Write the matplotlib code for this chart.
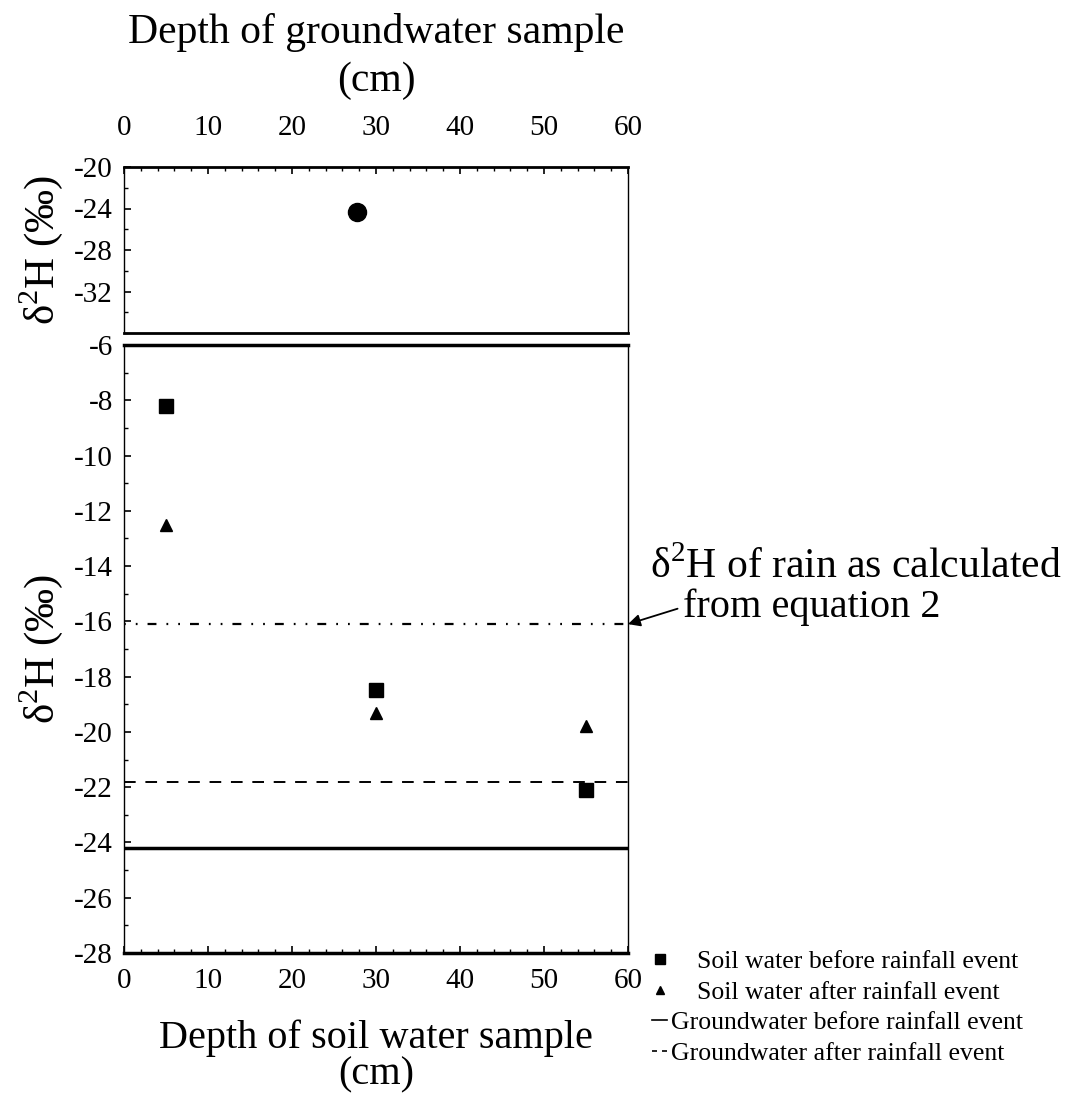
import numpy as np
import matplotlib
matplotlib.use("Agg")
import matplotlib.pyplot as plt
from matplotlib.lines import Line2D
from matplotlib.ticker import MultipleLocator

plt.rcParams['font.family'] = ['Liberation Serif', 'DejaVu Serif']
plt.rcParams['mathtext.fontset'] = 'custom'
plt.rcParams['mathtext.rm'] = 'Liberation Serif'
plt.rcParams['axes.unicode_minus'] = False

# ── data ──────────────────────────────────────────────────────────────────────
gw_depth = [27.7]
gw_delta = [-24.3]

soil_depth = [5, 30, 55]
soil_before = [-8.2, -18.5, -22.1]
soil_after = [-12.5, -19.3, -19.8]

gw_before_line = -24.2
gw_after_line = -21.8
rain_line = -16.1

x_ticks = [0, 10, 20, 30, 40, 50, 60]
top_yticks = [-20, -24, -28, -32]
bot_yticks = [-6, -8, -10, -12, -14, -16, -18, -20, -22, -24, -26, -28]

ylab = 'δ$^{2}$H (‰)'

W, H = 1084, 1097
fig = plt.figure(figsize=(W / 100, H / 100), dpi=100)

def fx(px):
    return px / W

def fy(py):
    return 1 - py / H

left, right = 124, 628
ax_top = fig.add_axes([fx(left), fy(333), fx(right - left), (333 - 167) / H])
ax_bot = fig.add_axes([fx(left), fy(953), fx(right - left), (953 - 345) / H])

# ── top panel: groundwater ───────────────────────────────────────────────────
ax_top.plot(gw_depth, gw_delta, 'o', color='black', ms=13)
ax_top.set_xlim(0, 60)
ax_top.set_ylim(-36, -20)
ax_top.set_xticks(x_ticks)
ax_top.set_yticks(top_yticks)
ax_top.xaxis.set_minor_locator(MultipleLocator(2))
ax_top.yaxis.set_minor_locator(MultipleLocator(2))
ax_top.xaxis.tick_top()
ax_top.tick_params(axis='x', which='both', direction='in', top=True, bottom=False,
                   labelsize=21, pad=19)
ax_top.tick_params(axis='y', which='both', direction='in', labelsize=21, pad=8)
ax_top.tick_params(which='major', length=5, width=1.2)
ax_top.tick_params(which='minor', length=3, width=1)
ax_top.xaxis.set_label_position('top')
ax_top.set_xlabel('Depth of groundwater sample\n(cm)', fontsize=30, linespacing=1.3)
ax_top.xaxis.set_label_coords(0.5, 1.46)
ax_top.set_ylabel(ylab, fontsize=31)
ax_top.yaxis.set_label_coords(-0.117, 0.5)
for side in ['top', 'bottom']:
    ax_top.spines[side].set_linewidth(2)
for side in ['left', 'right']:
    ax_top.spines[side].set_linewidth(1)

# ── bottom panel: soil water ─────────────────────────────────────────────────
ax_bot.plot(soil_depth, soil_before, 's', color='black', ms=10)
ax_bot.plot(soil_depth, soil_after, '^', color='black', ms=8)
ax_bot.axhline(gw_before_line, color='black', lw=2.5)
ax_bot.axhline(gw_after_line, color='black', lw=1.4, ls=(0, (6, 5)))
ax_bot.axhline(rain_line, color='black', lw=1.6, ls=(0, (0.8, 4.5, 0.8, 4.5, 4, 4.5)))
ax_bot.set_xlim(0, 60)
ax_bot.set_ylim(-28, -6)
ax_bot.set_xticks(x_ticks)
ax_bot.set_yticks(bot_yticks)
ax_bot.xaxis.set_minor_locator(MultipleLocator(2))
ax_bot.yaxis.set_minor_locator(MultipleLocator(1))
ax_bot.tick_params(axis='x', which='both', direction='in', labelsize=21, pad=11)
ax_bot.tick_params(axis='y', which='both', direction='in', labelsize=21, pad=8)
ax_bot.tick_params(which='major', length=5, width=1.2)
ax_bot.tick_params(which='minor', length=3, width=1)
ax_bot.set_xlabel('Depth of soil water sample\n(cm)', fontsize=29, linespacing=0.98)
ax_bot.xaxis.set_label_coords(0.5, -0.11)
ax_bot.set_ylabel(ylab, fontsize=31)
ax_bot.yaxis.set_label_coords(-0.117, 0.5)
for side in ['top', 'bottom']:
    ax_bot.spines[side].set_linewidth(2.5)
for side in ['left', 'right']:
    ax_bot.spines[side].set_linewidth(1)

# annotation for the rain line
fig.text(fx(650), fy(567), 'δ$^{2}$H of rain as calculated', fontsize=30,
         ha='left', va='center')
ax_bot.annotate('from equation 2', xy=(60, rain_line),
                xytext=(683, H - 607), textcoords='figure pixels',
                fontsize=29, ha='left', va='center',
                arrowprops=dict(arrowstyle='-|>', color='black', lw=1.3,
                                mutation_scale=18, shrinkA=2, shrinkB=0,
                                relpos=(0, 0.5)))

# legend
handles = [
    Line2D([], [], marker='s', ls='none', color='black', ms=7),
    Line2D([], [], marker='^', ls='none', color='black', ms=6),
    Line2D([], [], ls='-', color='black', lw=1.2),
    Line2D([], [], ls=(0, (3, 3)), color='black', lw=1.2),
]
labels = [
    '    Soil water before rainfall event',
    '    Soil water after rainfall event',
    'Groundwater before rainfall event',
    'Groundwater after rainfall event',
]
fig.legend(handles, labels, loc='upper left', bbox_to_anchor=(fx(652), fy(950)),
           frameon=False, fontsize=18.5, handlelength=0.6, handletextpad=0.15,
           labelspacing=0.3, borderpad=0, borderaxespad=0)

fig.savefig('out.png', dpi=100)
